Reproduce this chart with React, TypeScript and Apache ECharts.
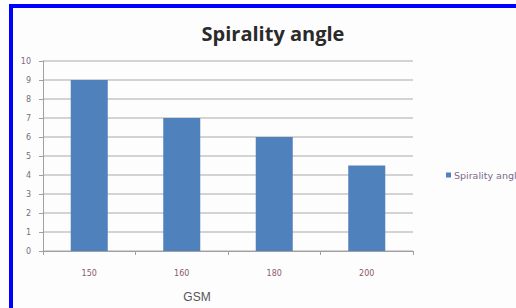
import React, { useEffect, useRef } from "react";
import * as echarts from "echarts";

const categories = ["150", "160", "180", "200"];
const spiralityValues = [9, 7, 6, 4.5];
const yTicks = { min: 0, max: 10, interval: 1 };
const titleText = "Spirality angle";
const seriesName = "Spirality angle";
const xAxisName = "GSM";

export default function App() {
  const ref = useRef<HTMLDivElement>(null);
  useEffect(() => {
    if (!ref.current) return;
    const chart = echarts.init(ref.current, null, { renderer: "svg" });
    chart.setOption({
      animation: false,
      backgroundColor: "#fdfdfd",
      title: {
        text: titleText,
        left: 268,
        top: 18,
        textAlign: "center",
        textStyle: { fontFamily: "Open Sans", fontWeight: "bold", fontSize: 20, color: "#2a2a2a" },
      },
      legend: {
        left: 441,
        top: 165,
        itemWidth: 5,
        itemHeight: 5,
        itemGap: 4,
        icon: "rect",
        textStyle: { fontFamily: "DejaVu Sans", fontSize: 9.5, color: "#7a6a8a", padding: [0, 0, 0, -2] },
        data: [seriesName],
      },
      grid: { left: 43, right: 103, top: 61, bottom: 57 },
      xAxis: {
        type: "category",
        data: categories,
        name: xAxisName,
        nameLocation: "middle",
        nameGap: 40,
        nameTextStyle: { fontFamily: "Liberation Sans", fontSize: 12, color: "#555", padding: [0, 62, 0, 0] },
        axisLine: { lineStyle: { color: "#a0a0a0", width: 1 } },
        axisTick: { show: true, length: 4, lineStyle: { color: "#a0a0a0" } },
        axisLabel: { margin: 18, fontFamily: "DejaVu Sans", fontSize: 8, color: "#8a5a6a" },
      },
      yAxis: {
        type: "value",
        min: yTicks.min,
        max: yTicks.max,
        interval: yTicks.interval,
        axisLine: { show: true, lineStyle: { color: "#a0a0a0", width: 1 } },
        axisTick: { show: true, length: 4, lineStyle: { color: "#a0a0a0" } },
        axisLabel: { margin: 12, fontFamily: "DejaVu Sans", fontSize: 8, color: "#7a6a7a" },
        splitLine: { lineStyle: { color: "#c4c4c4", width: 1.5 } },
      },
      series: [
        {
          name: seriesName,
          type: "bar",
          data: spiralityValues,
          barWidth: "40%",
          itemStyle: { color: "#4f81bd" },
        },
      ],
      graphic: [
        { type: "rect", shape: { x: 9, y: 4, width: 507, height: 4 }, style: { fill: "#0000ff" }, z: 100 },
        { type: "rect", shape: { x: 9, y: 4, width: 4, height: 304 }, style: { fill: "#0000ff" }, z: 100 },
        { type: "rect", shape: { x: 0, y: 0, width: 9, height: 308 }, style: { fill: "#ffffff" }, z: 99 },
        { type: "rect", shape: { x: 0, y: 0, width: 516, height: 4 }, style: { fill: "#ffffff" }, z: 99 },
      ],
    });
    return () => chart.dispose();
  }, []);
  return (
    <div style={{ position: "absolute", left: 0, top: 0, width: 516, height: 308 }}>
      <div ref={ref} style={{ width: 516, height: 308 }} />
    </div>
  );
}
